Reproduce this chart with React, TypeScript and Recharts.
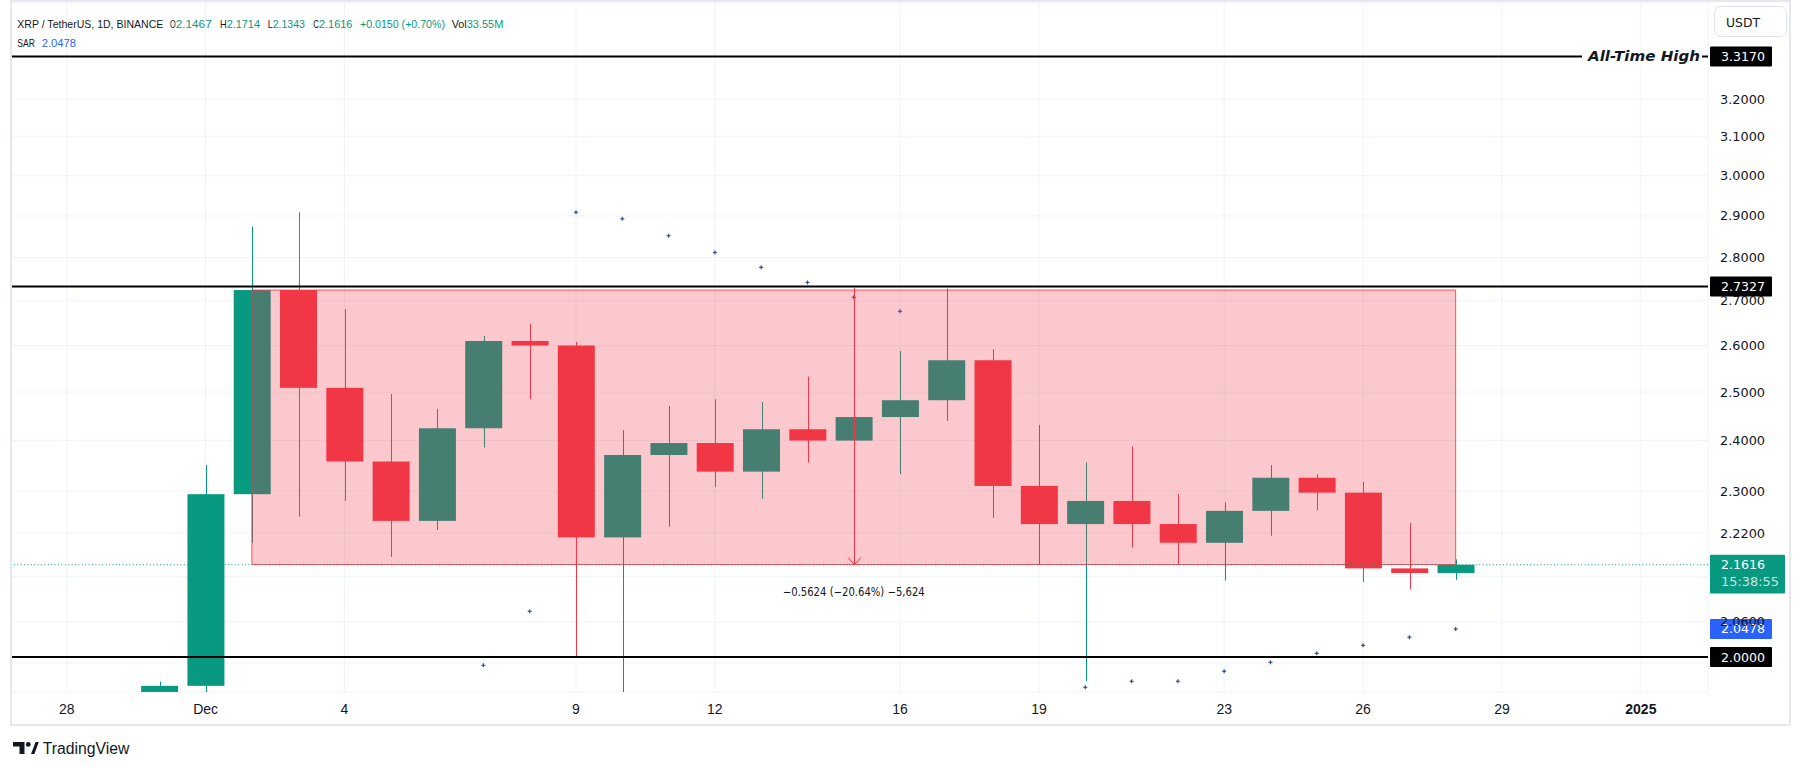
import React from 'react';
import {
  ComposedChart,
  Bar,
  Scatter,
  XAxis,
  YAxis,
  CartesianGrid,
  ReferenceLine,
  ReferenceArea,
} from 'recharts';

// ---------- data ----------
// day index: Nov 28 = 0, Dec 1 = 3 ...
const dayIndex = [2, 3, 4, 5, 6, 7, 8, 9, 10, 11, 12, 13, 14, 15, 16, 17, 18, 19, 20, 21, 22, 23, 24, 25, 26, 27, 28, 29, 30];
const dayLabels = ['Nov 30', 'Dec 1', 'Dec 2', 'Dec 3', 'Dec 4', 'Dec 5', 'Dec 6', 'Dec 7', 'Dec 8', 'Dec 9', 'Dec 10', 'Dec 11', 'Dec 12', 'Dec 13', 'Dec 14', 'Dec 15', 'Dec 16', 'Dec 17', 'Dec 18', 'Dec 19', 'Dec 20', 'Dec 21', 'Dec 22', 'Dec 23', 'Dec 24', 'Dec 25', 'Dec 26', 'Dec 27', 'Dec 28'];
const opens = [1.73, 1.952, 2.294, 2.7244, 2.509, 2.358, 2.243, 2.425, 2.61, 2.6, 2.212, 2.371, 2.395, 2.338, 2.423, 2.4, 2.448, 2.483, 2.568, 2.31, 2.237, 2.281, 2.237, 2.202, 2.262, 2.326, 2.297, 2.155, 2.1467];
const highs = [1.959, 2.351, 2.874, 2.909, 2.681, 2.496, 2.465, 2.621, 2.648, 2.608, 2.421, 2.471, 2.485, 2.479, 2.533, 2.47, 2.588, 2.728, 2.592, 2.432, 2.356, 2.388, 2.294, 2.278, 2.351, 2.333, 2.318, 2.239, 2.1714];
const lows = [1.7, 1.92, 2.202, 2.251, 2.281, 2.176, 2.226, 2.386, 2.485, 2.0005, 1.9, 2.232, 2.308, 2.285, 2.356, 2.369, 2.333, 2.44, 2.249, 2.161, 1.96, 2.193, 2.162, 2.133, 2.215, 2.263, 2.13, 2.117, 2.1343];
const closes = [1.952, 2.294, 2.7244, 2.509, 2.358, 2.243, 2.425, 2.61, 2.6, 2.212, 2.371, 2.395, 2.338, 2.423, 2.4, 2.448, 2.483, 2.568, 2.31, 2.237, 2.281, 2.237, 2.202, 2.262, 2.326, 2.297, 2.155, 2.1467, 2.1616];
const sarValues: (number | null)[] = [null, null, null, null, null, null, null, 1.986, 2.0785, 2.909, 2.893, 2.852, 2.812, 2.777, 2.742, 2.708, 2.676, null, null, null, 1.9496, 1.9595, 1.9595, 1.9761, 1.9911, 2.0062, 2.0198, 2.0335, 2.0478];

const xTickValues = [0, 3, 6, 11, 14, 18, 21, 25, 28, 31, 34];
const xTickLabels = ['28', 'Dec', '4', '9', '12', '16', '19', '23', '26', '29', '2025'];
const xDomain = [-1.181, 35.45];

const yTickValues = [3.2, 3.1, 3.0, 2.9, 2.8, 2.7, 2.6, 2.5, 2.4, 2.3, 2.22, 2.14, 2.06, 1.99];
const yHiddenTickLabels = [2.14, 1.99];
const yDomain = [1.9419, 3.4697];

const allTimeHigh = 3.317;
const rangeTop = 2.7327;
const supportLevel = 2.0;
const lastPrice = 2.1616;
const lastSar = 2.0478;

const boxStartDay = 4;
const boxEndDay = 30;
const boxHigh = 2.7244;
const boxLow = 2.162;
const measureDay = 17;

const TEAL = '#089981';
const RED = '#f23645';
const DARK = '#131722';
const BLUE = '#2962ff';

const candles = dayIndex.map((d, i) => ({
  day: d,
  label: dayLabels[i],
  open: opens[i],
  high: highs[i],
  low: lows[i],
  close: closes[i],
}));

const sarPoints = dayIndex
  .map((d, i) => ({ day: d, sar: sarValues[i] }))
  .filter((p) => p.sar !== null);

const AXIS_FONT = '"DejaVu Sans", sans-serif';
const LIB_FONT = '"Liberation Sans", Arial, sans-serif';

// ---------- shapes ----------
const WickShape = (props: any) => {
  const { x, y, width, height, payload } = props;
  if (x == null || y == null) return null;
  const color = payload.close >= payload.open ? TEAL : RED;
  const cx = Math.round(x + width / 2) + 0.5;
  const top = Math.min(y, y + height);
  const bot = Math.max(y, y + height);
  return <line x1={cx} x2={cx} y1={top} y2={bot} stroke={color} strokeWidth={1} />;
};

const BodyShape = (props: any) => {
  const { x, y, width, height, payload } = props;
  if (x == null || y == null) return null;
  const color = payload.close >= payload.open ? TEAL : RED;
  const top = Math.min(y, y + height);
  const h = Math.max(Math.abs(height), 2);
  return <rect x={x} y={top} width={width} height={h} fill={color} />;
};

const SarShape = (props: any) => {
  const { cx, cy } = props;
  if (cx == null || cy == null) return null;
  return (
    <g stroke="#34509a" strokeWidth={1.2}>
      <line x1={cx - 2} x2={cx + 2} y1={cy} y2={cy} />
      <line x1={cx} x2={cx} y1={cy - 2} y2={cy + 2} />
    </g>
  );
};

const XTick = (props: any) => {
  const { x, y, payload } = props;
  const i = xTickValues.indexOf(payload.value);
  const label = i >= 0 ? xTickLabels[i] : '';
  return (
    <text x={x} y={y + 22} textAnchor="middle" fontFamily={LIB_FONT} fontSize={14} fontWeight={label === '2025' ? 700 : 400} fill={DARK}>
      {label}
    </text>
  );
};

const YTick = (props: any) => {
  const { x, y, payload } = props;
  if (yHiddenTickLabels.includes(payload.value)) return null;
  return (
    <text x={x + 12} y={y} dominantBaseline="central" fontFamily={AXIS_FONT} fontSize={13} fill={DARK} textLength={45} lengthAdjust="spacingAndGlyphs">
      {payload.value.toFixed(4)}
    </text>
  );
};

const priceTag = (text: string, bg: string, sub?: string, athLabel?: boolean) => (props: any) => {
  const vb = props.viewBox || {};
  const right = (vb.x || 0) + (vb.width || 0);
  const cy = vb.y || 0;
  const tall = sub ? 38.7 : 20;
  const w = sub ? 75 : 62;
  return (
    <g>
      {athLabel && (
        <g>
          <rect x={right - 126} y={cy - 10} width={120} height={20} fill="#ffffff" />
          <text x={right - 120} y={cy + 5} fontFamily={AXIS_FONT} fontSize={14} fontWeight={700} fontStyle="italic" fill={DARK} textLength={112} lengthAdjust="spacingAndGlyphs">
            All-Time High
          </text>
        </g>
      )}
      <rect x={right + 2} y={cy - 10} width={w} height={tall} fill={bg} rx={1} />
      <text x={right + 13} y={cy} dominantBaseline="central" fontFamily={AXIS_FONT} fontSize={13} fill="#ffffff" textLength={44} lengthAdjust="spacingAndGlyphs">
        {text}
      </text>
      {sub && (
        <text x={right + 13} y={cy + 17.5} dominantBaseline="central" fontFamily={AXIS_FONT} fontSize={12} fill="rgba(255,255,255,0.78)" textLength={58} lengthAdjust="spacingAndGlyphs">
          {sub}
        </text>
      )}
    </g>
  );
};

const MeasureShape = (props: any) => {
  const { x1, y1, x2, y2 } = props;
  if (x1 == null) return null;
  const top = Math.min(y1, y2);
  const bot = Math.max(y1, y2);
  const cx = Math.round(x1) + 0.5;
  return (
    <g stroke={RED} strokeWidth={1} fill="none">
      <line x1={cx} x2={cx} y1={top - 2} y2={bot} />
      <polyline points={`${cx - 6.5},${bot - 7} ${cx},${bot} ${cx + 6.5},${bot - 7}`} />
    </g>
  );
};

const MeasureLabel = (props: any) => {
  const vb = props.viewBox || {};
  const cx = (vb.x || 0) + (vb.width || 0) / 2;
  const bot = (vb.y || 0) + (vb.height || 0);
  return (
    <text x={cx} y={bot + 27} textAnchor="middle" dominantBaseline="central" fontFamily={AXIS_FONT} fontSize={12} fill={DARK} textLength={142} lengthAdjust="spacingAndGlyphs">
      −0.5624 (−20.64%) −5,624
    </text>
  );
};

// header segments: text, x start, width, colour, font size
const headerLine1: [string, number, number, string, number][] = [
  ['XRP / TetherUS, 1D, BINANCE', 17.3, 146, DARK, 10.8],
  ['O', 170, 5.7, DARK, 11.5],
  ['2.1467', 175.7, 36, TEAL, 11.5],
  ['H', 220, 6.7, DARK, 11.5],
  ['2.1714', 226.7, 33.3, TEAL, 11.5],
  ['L', 267.7, 5, DARK, 11.5],
  ['2.1343', 272.7, 32.3, TEAL, 11.5],
  ['C', 313.3, 5.7, DARK, 11.5],
  ['2.1616', 319, 33.3, TEAL, 11.5],
  ['+0.0150 (+0.70%)', 360, 85, TEAL, 10.8],
  ['Vol', 451.7, 15, DARK, 11.5],
  ['33.55M', 466.7, 36.6, TEAL, 11.5],
];
const headerLine2: [string, number, number, string, number][] = [
  ['SAR', 17.3, 17.7, DARK, 11.5],
  ['2.0478', 41.7, 34.3, BLUE, 11.5],
];

const HeaderLine = ({ segs, y }: { segs: [string, number, number, string, number][]; y: number }) => (
  <text y={y} fontFamily={LIB_FONT} fontSize={11.5}>
    {segs.map(([t, x, w, c, fs]) => (
      <tspan key={t + x} x={x} fill={c} fontSize={fs} textLength={w} lengthAdjust="spacingAndGlyphs">
        {t}
      </tspan>
    ))}
  </text>
);

const Overlay = () => (
  <svg width={1804} height={770} style={{ position: 'absolute', left: 0, top: 0, pointerEvents: 'none' }}>
    <rect x={11} y={1} width={1779} height={724} fill="none" stroke="#e6e8ee" strokeWidth={2} />
    <HeaderLine segs={headerLine1} y={27.5} />
    <HeaderLine segs={headerLine2} y={47.3} />
    <rect x={1714.5} y={6.5} width={72} height={30} rx={6} fill="#ffffff" stroke="#e0e3eb" />
    <text x={1726} y={26.7} fontFamily={AXIS_FONT} fontSize={13} fill={DARK} textLength={34} lengthAdjust="spacingAndGlyphs">
      USDT
    </text>
    <g fill={DARK}>
      <path d="M13 742 H24.5 V754 H19.5 V746.5 H13 Z" />
      <circle cx={28.3} cy={744.4} r={2.4} />
      <path d="M31 754 L35.6 742 H38.8 L34.4 754 Z" />
    </g>
    <text x={42.7} y={754} fontFamily={LIB_FONT} fontSize={16} fill={DARK} textLength={86.6} lengthAdjust="spacingAndGlyphs">
      TradingView
    </text>
  </svg>
);

export default function App() {
  return (
    <div style={{ position: 'absolute', left: 0, top: 0, width: 1804, height: 770, background: '#ffffff', overflow: 'hidden' }}>
      <ComposedChart width={1804} height={770} data={candles} margin={{ top: 3, right: 14, left: 12, bottom: 48 }}>
        <CartesianGrid xAxisId="main" stroke="#f0f3fa" strokeWidth={1} />
        <XAxis
          xAxisId="main"
          dataKey="day"
          type="number"
          domain={xDomain}
          allowDataOverflow
          ticks={xTickValues}
          interval={0}
          tick={<XTick />}
          axisLine={false}
          tickLine={false}
          tickSize={0}
          tickMargin={0}
          height={30}
        />
        <XAxis xAxisId="body" dataKey="day" type="number" domain={xDomain} allowDataOverflow hide height={0} />
        <YAxis
          orientation="right"
          scale="log"
          domain={yDomain}
          allowDataOverflow
          ticks={yTickValues}
          interval={0}
          tick={<YTick />}
          axisLine={false}
          tickLine={false}
          tickSize={0}
          tickMargin={0}
          width={82}
        />
        <Bar
          xAxisId="main"
          dataKey={(d: any) => [d.low, d.high]}
          barSize={37}
          shape={WickShape}
          isAnimationActive={false}
        />
        <Bar
          xAxisId="body"
          dataKey={(d: any) => [Math.min(d.open, d.close), Math.max(d.open, d.close)]}
          barSize={37}
          shape={BodyShape}
          isAnimationActive={false}
        />
        <Scatter xAxisId="main" data={sarPoints} dataKey="sar" shape={SarShape} isAnimationActive={false} zIndex={320} />
        <ReferenceArea
          xAxisId="main"
          x1={boxStartDay}
          x2={boxEndDay}
          y1={boxLow}
          y2={boxHigh}
          fill={RED}
          fillOpacity={0.27}
          stroke={RED}
          strokeOpacity={0.85}
          strokeWidth={1}
          ifOverflow="visible"
          zIndex={450}
        />
        <ReferenceLine xAxisId="main" y={lastPrice} stroke={TEAL} strokeDasharray="1 2.4" label={priceTag(lastPrice.toFixed(4), TEAL, '15:38:55')} zIndex={500} />
        <ReferenceLine
          xAxisId="main"
          segment={[{ x: measureDay, y: boxHigh }, { x: measureDay, y: boxLow }]}
          shape={MeasureShape}
          label={MeasureLabel}
          zIndex={500}
        />
        <ReferenceLine xAxisId="main" y={allTimeHigh} stroke="#000000" strokeWidth={2} label={priceTag(allTimeHigh.toFixed(4), '#000000', undefined, true)} zIndex={500} />
        <ReferenceLine xAxisId="main" y={rangeTop} stroke="#000000" strokeWidth={2} label={priceTag(rangeTop.toFixed(4), '#000000')} zIndex={500} />
        <ReferenceLine xAxisId="main" y={supportLevel} stroke="#000000" strokeWidth={2} label={priceTag(supportLevel.toFixed(4), '#000000')} zIndex={500} />
        <ReferenceLine xAxisId="main" y={lastSar} stroke="none" label={priceTag(lastSar.toFixed(4), BLUE)} zIndex={500} />
      </ComposedChart>
      <Overlay />
    </div>
  );
}
